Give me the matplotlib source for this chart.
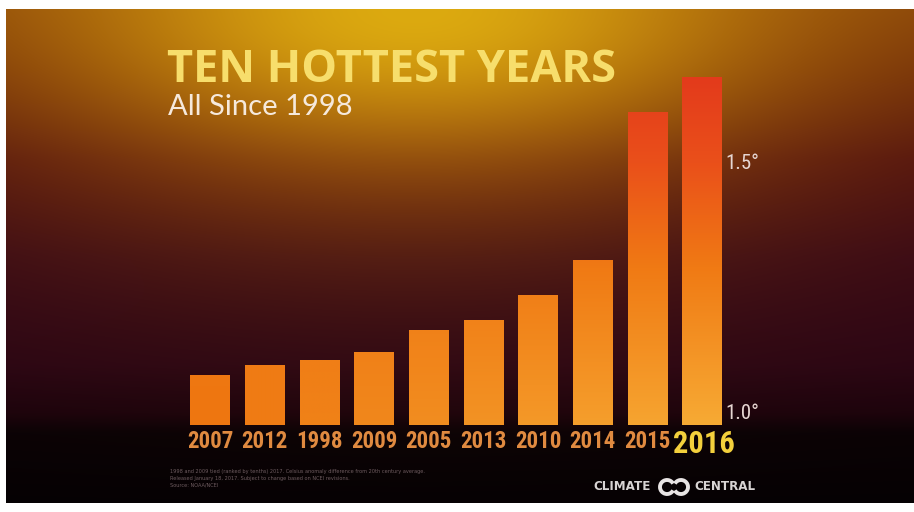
import numpy as np
import matplotlib
matplotlib.use("Agg")
import matplotlib.pyplot as plt
from matplotlib.colors import to_rgb
from matplotlib.patches import Arc
from matplotlib import font_manager as fm

# ---------------- data ----------------
years = ["2007", "2012", "1998", "2009", "2005", "2013", "2010", "2014", "2015", "2016"]
anomalies = [1.10, 1.12, 1.13, 1.146, 1.19, 1.21, 1.26, 1.33, 1.626, 1.696]
tick_values = [1.0, 1.5]
tick_labels = ["1.0°", "1.5°"]
title = "TEN HOTTEST YEARS"
subtitle = "All Since 1998"
footnote = ["1998 and 2009 tied (ranked by tenths) 2017. Celsius anomaly difference from 20th century average.",
            "Released January 18, 2017. Subject to change based on NCEI revisions.",
            "Source: NOAA/NCEI"]

# ---- pick a condensed font if one is installed ----
cond_family, cond_stretch, condensed = "DejaVu Sans", "normal", False
for fam, st in [("Roboto Condensed", "normal"), ("Liberation Sans Narrow", "normal"),
                ("Noto Sans", "condensed"), ("DejaVu Sans", "condensed"),
                ("Open Sans", "condensed"), ("Roboto", "condensed")]:
    try:
        fp = fm.FontProperties(family=fam, stretch=st, weight="bold")
        f = fm.findfont(fp, fallback_to_default=False)
        if "ondensed" in f or "arrow" in f:
            cond_family, cond_stretch, condensed = fam, st, True
            break
    except Exception:
        pass
scale = 1.0 if condensed else 0.72

W, H = 914, 512
fig = plt.figure(figsize=(W / 100, H / 100), dpi=100, facecolor="white")

# ---------------- background ----------------
x0p, x1p, y0p, y1p = 6, 914, 9, 503
bg = fig.add_axes([x0p / W, 1 - y1p / H, (x1p - x0p) / W, (y1p - y0p) / H], zorder=0)
bw, bh = 300, 200
xx, yy = np.meshgrid(np.linspace(0, 1, bw), np.linspace(0, 1, bh))
stops_y = [0.0, 0.12, 0.3, 0.5, 0.72, 0.82, 0.86, 1.0]
stops_c = ["#7e3c0a", "#6a280a", "#4a0c10", "#360716", "#2a0514", "#1c030c", "#0a0205", "#050103"]
cs = np.array([to_rgb(c) for c in stops_c])
base = np.zeros((bh, bw, 3))
for k in range(3):
    base[..., k] = np.interp(yy, stops_y, cs[:, k])
glow2 = np.exp(-((xx - 0.45) / 0.5) ** 2 - (yy / 0.45) ** 2)
orange = np.array(to_rgb("#b0600a"))
img = base * (1 - glow2[..., None] * 0.85) + orange * glow2[..., None] * 0.85
glow = np.exp(-((xx - 0.45) / 0.33) ** 2 - (yy / 0.24) ** 2)
gold = np.array(to_rgb("#dcaa10"))
img = img * (1 - glow[..., None]) + gold * glow[..., None]
bg.imshow(np.clip(img, 0, 1), aspect="auto", extent=[0, 1, 1, 0], interpolation="bicubic")
bg.set_axis_off()

# ---------------- bars ----------------
base_v = 1.0
ax = fig.add_axes([182.7 / W, (H - 425) / H, 546.7 / W, 375 / H], zorder=1)
ax.patch.set_alpha(0)
xs = np.arange(len(years))
bars = ax.bar(xs, np.array(anomalies) - base_v, bottom=base_v, width=0.72,
              color="#f07a14", edgecolor="none", zorder=2)

bot_left = np.array(to_rgb("#ee7610"))
bot_right = np.array(to_rgb("#f7aa34"))
mid_c = np.array(to_rgb("#f07a14"))
red1 = np.array(to_rgb("#ea501a"))
red2 = np.array(to_rgb("#e33a1c"))
for i, rect in enumerate(bars):
    bx0 = rect.get_x(); bx1 = bx0 + rect.get_width()
    by0 = rect.get_y(); by1 = by0 + rect.get_height()
    n = 120
    yv = np.linspace(by0, by1, n)
    t = (yv - 1.0) / 0.7
    bcol = bot_left + (bot_right - bot_left) * (i / 9)
    cols = np.zeros((n, 3))
    for k in range(3):
        cols[:, k] = np.interp(t, [0, 0.45, 0.75, 1.0], [bcol[k], mid_c[k], red1[k], red2[k]])
    im = cols[::-1][:, None, :]
    ax.imshow(im, extent=[bx0, bx1, by0, by1], aspect="auto", zorder=3, interpolation="bilinear")

ax.set_xlim(-0.5, 9.5)
ax.set_ylim(1.0, 1.75)
ax.set_axis_off()

cfam = [cond_family, "DejaVu Sans"]
for i, yr in enumerate(years):
    if yr == "2016":
        ax.text(i + 0.04, 0.992, yr, ha="center", va="top", fontsize=22 * scale, fontweight="bold",
                color="#f3d03c", family=cfam, fontstretch=cond_stretch, clip_on=False)
    else:
        ax.text(i, 0.990, yr, ha="center", va="top", fontsize=16.5 * scale, fontweight="bold",
                color="#e08a40", family=cfam, fontstretch=cond_stretch, clip_on=False)

for v, lab in zip(tick_values, tick_labels):
    ax.text(9.42, v + 0.004, lab, ha="left", va="bottom", fontsize=15 * (1 if condensed else 0.8),
            color="#e6d6d2", family=cfam, fontstretch=cond_stretch, clip_on=False)

# ---------------- titles ----------------
fig.text(167 / W, 1 - 82.5 / H, title, ha="left", va="baseline", fontsize=32.5,
         fontweight="bold", color="#f7de6c", family=["Open Sans", "DejaVu Sans"])
fig.text(168 / W, 1 - 115 / H, subtitle, ha="left", va="baseline", fontsize=21,
         fontweight="normal", color="#f6e9dc", family=["Lato", "DejaVu Sans"])

# ---------------- footnote ----------------
for j, line in enumerate(footnote):
    fig.text(170 / W, 1 - (472 + j * 6.5) / H, line, ha="left", va="center", fontsize=3.6,
             color="#6e5c60")

# ---------------- logo ----------------
fig.text(593 / W, 1 - 487 / H, "CLIMATE", ha="left", va="center", fontsize=8.6,
         fontweight="bold", color="#d8d4d4")
fig.text(694 / W, 1 - 487 / H, "CENTRAL", ha="left", va="center", fontsize=8.6,
         fontweight="bold", color="#d8d4d4")
r = 14
fig.add_artist(Arc((667 / W, 1 - 487 / H), r / W, r / H, theta1=45, theta2=315,
                   transform=fig.transFigure, color="#e8e4e4", lw=2.8))
fig.add_artist(Arc((681 / W, 1 - 487 / H), r / W, r / H, theta1=225, theta2=135,
                   transform=fig.transFigure, color="#e8e4e4", lw=2.8))

fig.savefig("out.png", dpi=100, facecolor="white")
